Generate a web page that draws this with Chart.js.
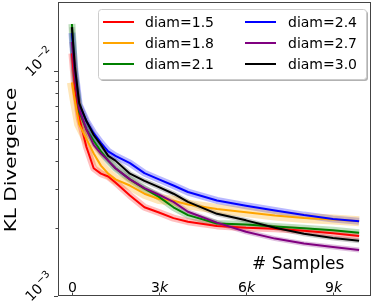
<!DOCTYPE html>
<html>
<head>
<meta charset="utf-8">
<script src="https://cdn.jsdelivr.net/npm/chart.js@4"></script>
<style>
  body { margin: 0; background: #fff; }
  canvas { display: block; }
</style>
</head>
<body>
<canvas id="chart" width="374" height="305"></canvas>
<script>
// amostras (eixo x) e curvas de KL
var samples = [0, 100, 250, 500, 750, 1000, 1250, 1500, 2000, 2500, 3000, 3500, 4000, 5000, 6000, 7000, 8000, 9000, 9900];
var diam15 = [0.0120, 0.0085, 0.0062, 0.0046, 0.0037, 0.0035, 0.0034, 0.0032, 0.0028, 0.00248, 0.00235, 0.00222, 0.00214, 0.00205, 0.00201, 0.00199, 0.00195, 0.00190, 0.00185];
var diam18 = [0.0089, 0.0074, 0.0058, 0.0050, 0.0043, 0.0038, 0.0035, 0.0033, 0.0031, 0.00285, 0.0027, 0.00265, 0.00255, 0.00244, 0.00236, 0.00228, 0.00222, 0.00219, 0.00215];
var diam21 = [0.0162, 0.0095, 0.0066, 0.0055, 0.0049, 0.0044, 0.0040, 0.0037, 0.0033, 0.0030, 0.00276, 0.00248, 0.00229, 0.00210, 0.00208, 0.00204, 0.00200, 0.00196, 0.00191];
var diam24 = [0.0148, 0.0102, 0.0071, 0.0060, 0.0053, 0.0048, 0.0044, 0.0042, 0.0039, 0.00352, 0.0033, 0.0031, 0.0029, 0.00266, 0.00252, 0.0024, 0.00229, 0.0022, 0.00215];
var diam27 = [0.0135, 0.0095, 0.0068, 0.0055, 0.0047, 0.0043, 0.0040, 0.0037, 0.0033, 0.00302, 0.00282, 0.00262, 0.00237, 0.00212, 0.00193, 0.0018, 0.00171, 0.00165, 0.0016];
var diam30 = [0.0157, 0.0105, 0.0072, 0.0060, 0.0052, 0.0047, 0.0042, 0.0040, 0.0035, 0.00325, 0.00305, 0.00285, 0.00262, 0.00232, 0.00217, 0.00201, 0.00189, 0.00181, 0.00176];

var nomes = ['diam=1.5', 'diam=1.8', 'diam=2.1', 'diam=2.4', 'diam=2.7', 'diam=3.0'];
var series = [diam15, diam18, diam21, diam24, diam27, diam30];

var xTicks = [0, 3000, 6000, 9000];
var xTickLabels = ['0', '3', '6', '9'];
var yMajorTicks = [0.001, 0.01];
var yMajorLabels = ['\u22123', '\u22122'];
var yMinorTicks = [0.002, 0.003, 0.004, 0.005, 0.006, 0.007, 0.008, 0.009];

// cores (estilo)
var cores = ['#ff0000', '#ffa500', '#008000', '#0000ff', '#800080', '#000000'];
var faixas = ['rgba(255,0,0,0.25)', 'rgba(255,165,0,0.28)', 'rgba(0,128,0,0.25)', 'rgba(0,0,255,0.28)', 'rgba(128,0,128,0.25)', 'rgba(0,0,0,0.2)'];
var larguraFaixa = [7, 10, 7, 7, 5, 5];

var FONTE = '"DejaVu Sans", sans-serif';

function pontos(vals) {
  return samples.map(function (s, j) { return { x: s, y: vals[j] }; });
}

var datasets = [];
series.forEach(function (vals, i) {
  // faixa clara em volta da linha
  datasets.push({
    label: '_faixa' + i,
    data: pontos(vals),
    borderColor: faixas[i],
    borderWidth: larguraFaixa[i],
    borderJoinStyle: 'round',
    borderCapStyle: 'butt',
    pointRadius: 0,
    order: 20
  });
});
series.forEach(function (vals, i) {
  datasets.push({
    label: nomes[i],
    data: pontos(vals),
    borderColor: cores[i],
    borderWidth: 2,
    borderJoinStyle: 'round',
    pointRadius: 0,
    order: 6 - i
  });
});

var desenhos = {
  id: 'desenhos',
  afterDraw: function (chart) {
    var ctx = chart.ctx;
    var a = chart.chartArea;
    var sx = chart.scales.x, sy = chart.scales.y;
    ctx.save();

    // moldura
    ctx.strokeStyle = '#444';
    ctx.lineWidth = 1;
    ctx.strokeRect(a.left + 0.5, a.top + 0.5, a.right - a.left - 1, a.bottom - a.top - 1);

    // ticks do eixo y (para fora)
    ctx.strokeStyle = '#444';
    yMajorTicks.forEach(function (v) {
      var y = Math.round(sy.getPixelForValue(v)) + 0.5;
      ctx.beginPath(); ctx.moveTo(a.left - 4, y); ctx.lineTo(a.left, y); ctx.stroke();
    });
    yMinorTicks.forEach(function (v) {
      var y = Math.round(sy.getPixelForValue(v)) + 0.5;
      ctx.beginPath(); ctx.moveTo(a.left - 2.5, y); ctx.lineTo(a.left, y); ctx.stroke();
    });

    // ticks do eixo x (para dentro) e rotulos
    ctx.fillStyle = '#000';
    ctx.textBaseline = 'alphabetic';
    xTicks.forEach(function (v, i) {
      var x = Math.round(sx.getPixelForValue(v)) + 0.5;
      ctx.beginPath(); ctx.moveTo(x, a.bottom); ctx.lineTo(x, a.bottom - 3.5); ctx.stroke();
      var num = xTickLabels[i];
      ctx.font = '14px ' + FONTE;
      var w1 = ctx.measureText(num).width;
      var w2 = 0;
      if (v !== 0) {
        ctx.font = 'italic 14px ' + FONTE;
        w2 = ctx.measureText('k').width;
      }
      var x0 = x - (w1 + w2) / 2;
      ctx.font = '14px ' + FONTE;
      ctx.textAlign = 'left';
      ctx.fillText(num, x0, a.bottom - 4);
      if (v !== 0) {
        ctx.font = 'italic 14px ' + FONTE;
        ctx.fillText('k', x0 + w1, a.bottom - 4);
      }
    });

    // rotulos do eixo y: 10^-n girados 45 graus
    yMajorTicks.forEach(function (v, i) {
      var y = sy.getPixelForValue(v);
      ctx.save();
      ctx.translate(a.left - 27, y + 6);
      ctx.rotate(-Math.PI / 4);
      ctx.textAlign = 'left';
      ctx.font = '14px ' + FONTE;
      ctx.fillText('10', 0, 0);
      var w = ctx.measureText('10').width;
      ctx.font = '10px ' + FONTE;
      ctx.fillText(yMajorLabels[i], w + 0.5, -6);
      ctx.restore();
    });

    // titulo do eixo y
    ctx.save();
    ctx.translate(16, (a.top + a.bottom) / 2 + 11);
    ctx.rotate(-Math.PI / 2);
    ctx.scale(1.25, 1);
    ctx.textAlign = 'center';
    ctx.font = '16px ' + FONTE;
    ctx.fillText('KL Divergence', 0, 0);
    ctx.restore();

    // titulo do eixo x dentro do grafico
    ctx.font = '17px ' + FONTE;
    ctx.textAlign = 'left';
    ctx.fillText('# Samples', 252, 269);

    // legenda em duas colunas
    var lx = 98, ly = 9, lw = 268, lh = 70;
    ctx.fillStyle = 'rgba(0,0,0,0.3)';
    ctx.beginPath(); ctx.roundRect(lx + 2, ly + 2, lw, lh, 3); ctx.fill();
    ctx.fillStyle = '#fff';
    ctx.strokeStyle = '#cccccc';
    ctx.beginPath(); ctx.roundRect(lx + 0.5, ly + 0.5, lw, lh, 3); ctx.fill(); ctx.stroke();

    var linhas = chart.data.datasets.filter(function (d) { return d.label.charAt(0) !== '_'; });
    ctx.font = '14px ' + FONTE;
    ctx.textBaseline = 'middle';
    linhas.forEach(function (d, i) {
      var col = Math.floor(i / 3), row = i % 3;
      var x1 = col === 0 ? 103 : 245;
      var tx = col === 0 ? 145 : 288;
      var yy = 22 + row * 21;
      ctx.strokeStyle = d.borderColor;
      ctx.lineWidth = 2;
      ctx.beginPath(); ctx.moveTo(x1, yy); ctx.lineTo(x1 + 31, yy); ctx.stroke();
      ctx.fillStyle = '#000';
      ctx.fillText(d.label, tx, yy + 1);
    });

    ctx.restore();
  }
};

new Chart(document.getElementById('chart').getContext('2d'), {
  type: 'line',
  data: { datasets: datasets },
  options: {
    responsive: false,
    animation: false,
    layout: { padding: { left: 58, right: 3, top: 2, bottom: 9 } },
    plugins: { legend: { display: false }, tooltip: { enabled: false } },
    scales: {
      x: { type: 'linear', min: -480, max: 10310, display: false },
      y: { type: 'logarithmic', min: 0.001, max: 0.0203, display: false }
    }
  },
  plugins: [desenhos]
});
</script>
</body>
</html>
